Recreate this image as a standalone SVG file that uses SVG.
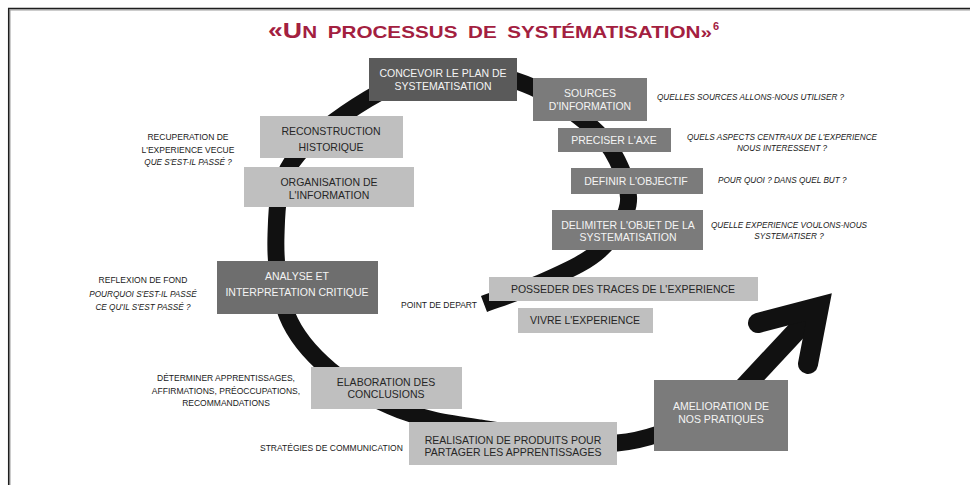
<svg xmlns="http://www.w3.org/2000/svg" width="970" height="485" viewBox="0 0 970 485">
<defs>
<style>
.bd{fill:#5a5a5a}
.bm{fill:#6e6e6e}
.bg{fill:#7b7b7b}
.bl{fill:#bfbfbf}
.tw{font-family:"Liberation Sans",Arial,sans-serif;font-size:10.5px;fill:#f4f4f4;text-anchor:middle}
.tk{font-family:"Liberation Sans",Arial,sans-serif;font-size:10.5px;fill:#262626;text-anchor:middle}
.s{font-family:"Liberation Sans",Arial,sans-serif;font-size:8.5px;fill:#1a1a1a}
.i{font-style:italic;font-size:8.2px}
.m{text-anchor:middle}
.loop{fill:none;stroke:#111;stroke-width:17}
.arr{fill:none;stroke:#111;stroke-width:20}
</style>
</defs>
<rect width="970" height="485" fill="#fff"/>
<path d="M10 485 V10 H970" fill="none" stroke="#9a9a9a" stroke-width="1"/>
<path d="M8.7 485 V8.5 H970" fill="none" stroke="#1e1e1e" stroke-width="1.5"/>

<g id="title" fill="#a3203f" font-family="Liberation Sans,Arial,sans-serif" font-weight="bold">
<text x="268" y="38" textLength="444" lengthAdjust="spacingAndGlyphs" font-size="17" word-spacing="4"><tspan font-size="22">«U</tspan>N PROCESSUS DE SYSTÉMATISATION»</text>
<text x="713" y="30" font-size="11">6</text>
</g>

<g id="connectors">
<path class="loop" d="M484 304 C494.5 300 527.7 289 547 280 C566.3 271 586.5 262.5 600 250 C613.5 237.5 625.2 220 628 205 C630.8 190 623.7 173.5 617 160 C610.3 146.5 603.3 136.7 588 124 C572.7 111.3 548.8 93 525 84 C501.2 75 471.2 67.5 445 70 C418.8 72.5 393.5 83.7 368 99 C342.5 114.3 307.3 139.3 292 162 C276.7 184.7 276.8 209.5 276 235 C275.2 260.5 278 292.5 287 315 C296 337.5 311.2 354.2 330 370 C348.8 385.8 375 400.3 400 410 C425 419.7 443.8 422.5 480 428 C516.2 433.5 577 446 617 443 C657 440 702.8 415.5 720 410"/>
<path class="arr" d="M718 415 L816 310"/>
<path class="arr" stroke-linecap="round" stroke-linejoin="miter" d="M758 323 L819 307 L808 364"/>
</g>

<g id="n-concevoir"><rect class="bd" x="369" y="58" width="148" height="43"/><text class="tw" x="443" y="77">CONCEVOIR LE PLAN DE</text><text class="tw" x="443" y="90">SYSTEMATISATION</text></g>
<g id="n-sources"><rect class="bg" x="533" y="78" width="114" height="43"/><text class="tw" x="590" y="97">SOURCES</text><text class="tw" x="590" y="110">D'INFORMATION</text></g>
<g id="n-preciser"><rect class="bg" x="558" y="128" width="113" height="24"/><text class="tw" x="614" y="144">PRECISER L'AXE</text></g>
<g id="n-definir"><rect class="bg" x="571" y="168" width="132" height="26"/><text class="tw" x="636" y="185">DEFINIR L'OBJECTIF</text></g>
<g id="n-delimiter"><rect class="bg" x="552" y="210" width="151" height="40"/><text class="tw" x="628" y="229">DELIMITER L'OBJET DE LA</text><text class="tw" x="628" y="241">SYSTEMATISATION</text></g>
<g id="n-reconstruction"><rect class="bl" x="260" y="116" width="143" height="42"/><text class="tk" x="331" y="135" font-size="11">RECONSTRUCTION</text><text class="tk" x="331" y="151" font-size="11">HISTORIQUE</text></g>
<g id="n-organisation"><rect class="bl" x="244" y="167" width="170" height="40"/><text class="tk" x="329" y="186">ORGANISATION DE</text><text class="tk" x="329" y="199">L'INFORMATION</text></g>
<g id="n-analyse"><rect class="bm" x="217" y="261" width="161" height="53"/><text class="tw" x="297" y="280" font-size="11">ANALYSE ET</text><text class="tw" x="297" y="296" font-size="11">INTERPRETATION CRITIQUE</text></g>
<g id="n-posseder"><rect class="bl" x="489" y="277" width="269" height="24"/><text class="tk" x="623" y="293">POSSEDER DES TRACES DE L'EXPERIENCE</text></g>
<g id="n-vivre"><rect class="bl" x="518" y="308" width="135" height="25"/><text class="tk" x="585" y="324">VIVRE L'EXPERIENCE</text></g>
<g id="n-elaboration"><rect class="bl" x="311" y="367" width="151" height="42"/><text class="tk" x="386" y="386">ELABORATION DES</text><text class="tk" x="386" y="398">CONCLUSIONS</text></g>
<g id="n-realisation"><rect class="bl" x="409" y="422" width="208" height="43"/><text class="tk" x="513" y="444">REALISATION DE PRODUITS POUR</text><text class="tk" x="513" y="456">PARTAGER LES APPRENTISSAGES</text></g>
<g id="n-amelioration"><rect class="bg" x="654" y="380" width="134" height="71" fill="#808080"/><text class="tw" x="721" y="410">AMELIORATION DE</text><text class="tw" x="721" y="423">NOS PRATIQUES</text></g>

<g id="labels">
<text class="s i" x="657" y="100">QUELLES SOURCES ALLONS-NOUS UTILISER ?</text>
<text class="s i m" x="782" y="140">QUELS ASPECTS CENTRAUX DE L'EXPERIENCE</text>
<text class="s i m" x="782" y="151">NOUS INTERESSENT ?</text>
<text class="s i" x="718" y="183">POUR QUOI ? DANS QUEL BUT ?</text>
<text class="s i m" x="789" y="228">QUELLE EXPERIENCE VOULONS-NOUS</text>
<text class="s i m" x="789" y="239">SYSTEMATISER ?</text>
<text class="s m" x="188" y="140">RECUPERATION DE</text>
<text class="s m" x="188" y="153">L'EXPERIENCE VECUE</text>
<text class="s i m" x="188" y="165">QUE S'EST-IL PASSÉ ?</text>
<text class="s m" x="143" y="283">REFLEXION DE FOND</text>
<text class="s i m" x="143" y="296.5">POURQUOI S'EST-IL PASSÉ</text>
<text class="s i m" x="143" y="310">CE QU'IL S'EST PASSÉ ?</text>
<text class="s" x="401" y="308">POINT DE DEPART</text>
<text class="s m" x="226" y="381">DÉTERMINER APPRENTISSAGES,</text>
<text class="s m" x="226" y="394">AFFIRMATIONS, PRÉOCCUPATIONS,</text>
<text class="s m" x="226" y="406">RECOMMANDATIONS</text>
<text class="s" x="260" y="451">STRATÉGIES DE COMMUNICATION</text>
</g>
</svg>
